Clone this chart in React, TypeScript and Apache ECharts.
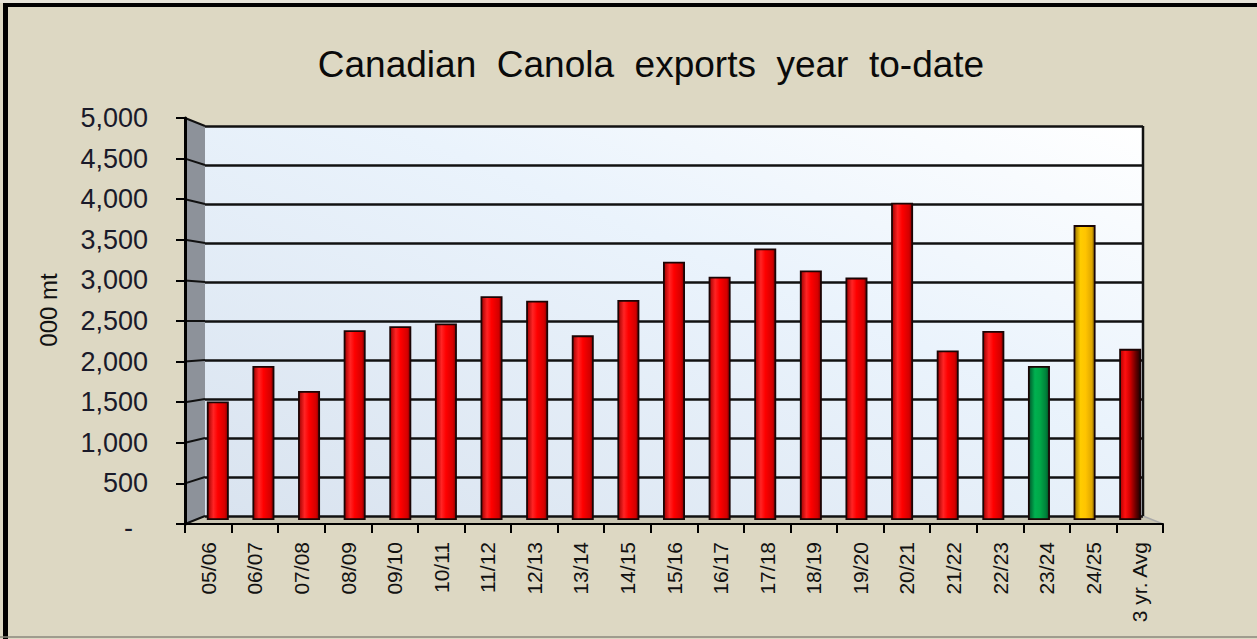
import React, { useEffect, useRef } from "react";
import * as echarts from "echarts";

// ---- data ----
const chartTitle = "Canadian  Canola  exports  year  to-date";
const yAxisTitle = "000 mt";
const categories = [
  "05/06", "06/07", "07/08", "08/09", "09/10", "10/11", "11/12", "12/13", "13/14", "14/15",
  "15/16", "16/17", "17/18", "18/19", "19/20", "20/21", "21/22", "22/23", "23/24", "24/25", "3 yr. Avg",
];
const exportsKt = [
  1490, 1935, 1620, 2385, 2435, 2470, 2810, 2755, 2320, 2765,
  3245, 3055, 3410, 3135, 3045, 3985, 2130, 2375, 1935, 3705, 2150,
];
const yMin = 0;
const yMax = 5000;
const yStep = 500;
const yTicks = [0, 500, 1000, 1500, 2000, 2500, 3000, 3500, 4000, 4500, 5000];
const lastSeason = "23/24";
const currentSeason = "24/25";
const averageLabel = "3 yr. Avg";

// ---- layout (pseudo-3D planes) ----
const W = 1257;
const H = 639;
const FRONT = { left: 185, top: 118, width: 978, height: 406 };
const MID = { left: 195, top: 122, width: 958, height: 398 };
const BACK = { left: 205, top: 126, width: 938, height: 390 };

const FONT = "'Liberation Sans', Arial, sans-serif";

const cyl = (stops: [number, string][]) =>
  new echarts.graphic.LinearGradient(0, 0, 1, 0, stops.map(([offset, color]) => ({ offset, color })));

function fillFor(cat: string) {
  if (cat === lastSeason)
    return cyl([[0, "#00552a"], [0.3, "#00b050"], [0.55, "#00a848"], [0.85, "#00803a"], [1, "#004d24"]]);
  if (cat === currentSeason)
    return cyl([[0, "#9a7400"], [0.3, "#ffcc00"], [0.55, "#ffc400"], [0.85, "#e0a800"], [1, "#8a6800"]]);
  if (cat === averageLabel)
    return cyl([[0, "#b00000"], [0.25, "#ff1010"], [0.5, "#d00000"], [0.8, "#600000"], [1, "#200000"]]);
  return cyl([[0, "#a00000"], [0.28, "#ff2424"], [0.5, "#ff0000"], [0.85, "#d40000"], [1, "#800000"]]);
}

function gridOf(r: { left: number; top: number; width: number; height: number }) {
  return { left: r.left, top: r.top, width: r.width, height: r.height, containLabel: false, outerBoundsMode: "none" };
}

export default function App() {
  const ref = useRef<HTMLDivElement>(null);

  useEffect(() => {
    if (!ref.current) return;
    const chart = echarts.init(ref.current, undefined, { renderer: "svg" });

    const option: any = {
      animation: false,
      backgroundColor: "#ddd8c3",
      title: {
        text: chartTitle,
        left: 651,
        top: 46,
        textAlign: "center",
        padding: 0,
        textStyle: { fontFamily: FONT, fontSize: 37, fontWeight: "normal", color: "#0a0a0a" },
      },
      grid: [
        {
          ...gridOf(BACK),
          show: true,
          borderWidth: 0,
          backgroundColor: new echarts.graphic.LinearGradient(0, 1, 1, 0, [
            { offset: 0, color: "#d9e3ef" },
            { offset: 0.6, color: "#eaf3fc" },
            { offset: 1, color: "#ffffff" },
          ]),
        },
        gridOf(MID),
        gridOf(FRONT),
      ],
      xAxis: [
        { gridIndex: 0, type: "category", data: categories, show: false },
        { gridIndex: 1, type: "category", data: categories, show: false },
        {
          gridIndex: 2,
          type: "category",
          data: categories,
          axisLine: { show: true, lineStyle: { color: "#000", width: 2 } },
          axisTick: { show: true, length: 9, lineStyle: { color: "#000", width: 2 } },
          axisLabel: { rotate: 90, fontSize: 21, margin: 18, color: "#111", fontFamily: FONT },
          splitLine: { show: false },
        },
      ],
      yAxis: [
        {
          gridIndex: 0,
          type: "value",
          min: yMin,
          max: yMax,
          interval: yStep,
          axisLabel: { show: false },
          axisLine: { show: false },
          axisTick: { show: false },
          splitLine: { show: true, lineStyle: { color: "#111", width: 2.5 } },
        },
        { gridIndex: 1, type: "value", min: yMin, max: yMax, interval: yStep, show: false },
        {
          gridIndex: 2,
          type: "value",
          min: yMin,
          max: yMax,
          interval: yStep,
          axisLine: { show: true, lineStyle: { color: "#000", width: 3 } },
          axisTick: { show: true, length: 9, lineStyle: { color: "#000", width: 2 } },
          splitLine: { show: false },
          axisLabel: {
            margin: 37,
            fontSize: 27,
            color: "#1a1a2a",
            fontFamily: FONT,
            formatter: (v: number) => (v === 0 ? "{dash|-}" : v.toLocaleString("en-US")),
            rich: { dash: { fontSize: 27, fontFamily: FONT, color: "#1a1a2a", padding: [8, 15, 0, 0] } },
          },
        },
      ],
      series: [
        {
          type: "bar",
          xAxisIndex: 1,
          yAxisIndex: 1,
          barWidth: 22,
          data: categories.map((c, i) => ({
            value: exportsKt[i],
            itemStyle: { color: fillFor(c), borderColor: "#1a0505", borderWidth: 1.8 },
          })),
        },
      ],
    };

    chart.setOption(option);

    const fy = (v: number) => chart.convertToPixel({ yAxisIndex: 2 }, v) as number;
    const by = (v: number) => chart.convertToPixel({ yAxisIndex: 0 }, v) as number;
    const fL = FRONT.left;
    const fR = FRONT.left + FRONT.width;
    const bL = BACK.left;
    const bR = BACK.left + BACK.width;

    const graphic: any[] = [
      // frame
      { type: "rect", shape: { x: 0, y: 0, width: W, height: 3 }, style: { fill: "#e6e3d8" }, silent: true },
      { type: "rect", shape: { x: 3, y: 3, width: 5, height: H - 3 }, style: { fill: "#000" }, silent: true },
      { type: "rect", shape: { x: 3, y: 3, width: W - 3, height: 4 }, style: { fill: "#000" }, silent: true },
      { type: "line", shape: { x1: 0, y1: H - 2, x2: W, y2: H - 2 }, style: { stroke: "#8a887c", lineWidth: 1.5 }, silent: true },
      // side wall
      {
        type: "polygon",
        z: -1,
        shape: { points: [[fL, fy(yMax)], [bL, by(yMax)], [bL, by(yMin)], [fL, fy(yMin)]] },
        style: { fill: "#8d929a" },
        silent: true,
      },
      // floor
      {
        type: "polygon",
        z: -1,
        shape: { points: [[fL, fy(yMin)], [bL, by(yMin)], [bR, by(yMin)], [fR, fy(yMin)]] },
        style: { fill: "#c9c5b2" },
        silent: true,
      },
      { type: "line", shape: { x1: bR, y1: by(yMin), x2: fR, y2: fy(yMin) }, style: { stroke: "#a9a9a9", lineWidth: 1.5 }, silent: true },
      // back wall right edge
      { type: "line", shape: { x1: bR, y1: by(yMax), x2: bR, y2: by(yMin) }, style: { stroke: "#111", lineWidth: 2.5 }, silent: true },
      // side wall grid lines
      ...yTicks.map((v) => ({
        type: "line",
        shape: { x1: fL, y1: fy(v), x2: bL, y2: by(v) },
        style: { stroke: "#111", lineWidth: 2 },
        silent: true,
      })),
      // y axis title
      {
        type: "text",
        x: 48,
        y: 310,
        rotation: Math.PI / 2,
        style: {
          text: yAxisTitle,
          fontSize: 24,
          fontFamily: FONT,
          fill: "#111",
          align: "center",
          verticalAlign: "middle",
        },
        silent: true,
      },
    ];

    chart.setOption({ graphic });

    return () => chart.dispose();
  }, []);

  return <div ref={ref} style={{ position: "fixed", left: 0, top: 0, width: W, height: H }} />;
}
